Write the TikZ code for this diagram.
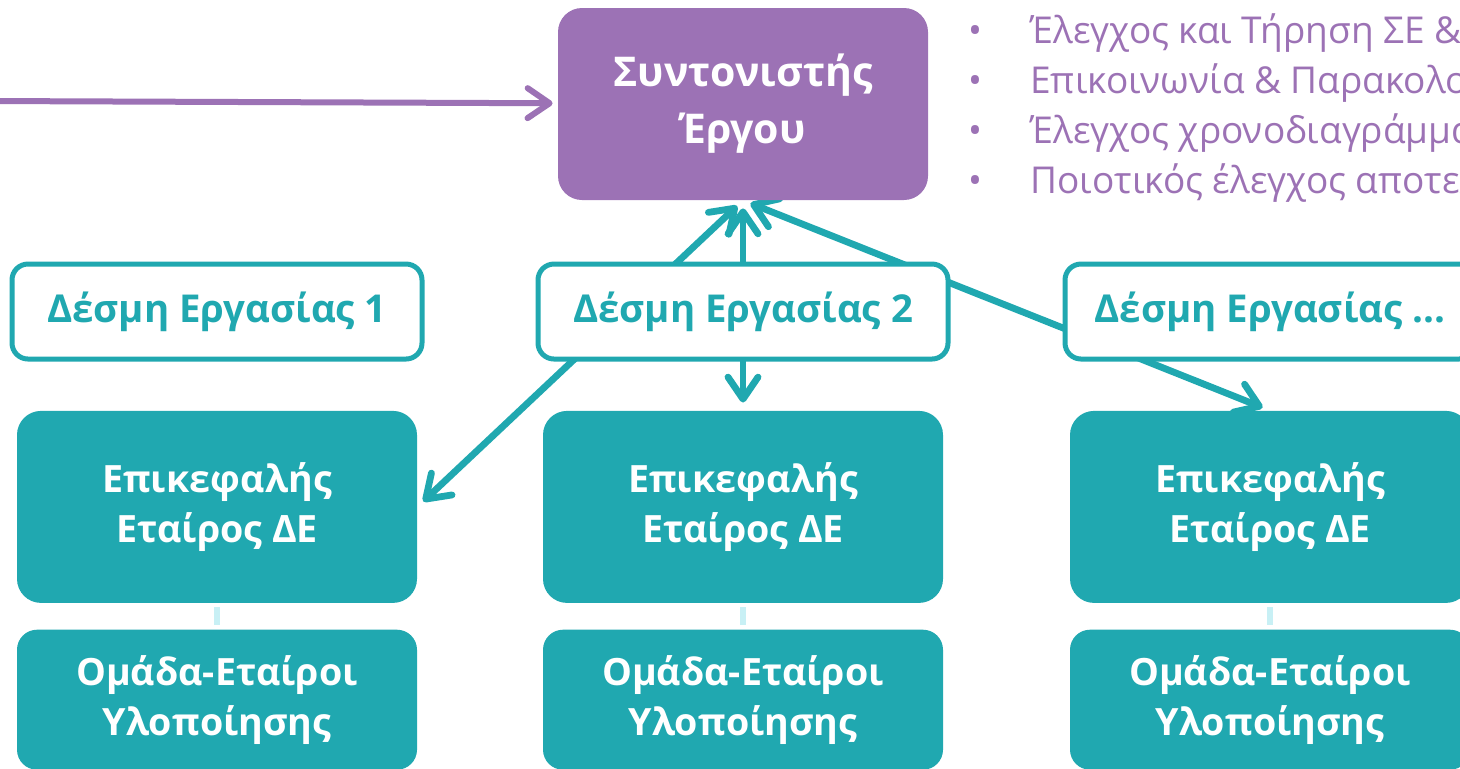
\documentclass[tikz,border=0pt]{standalone}
\usepackage{fontspec}
\setmainfont{Open Sans}
\usetikzlibrary{arrows.meta,positioning,backgrounds}
\definecolor{coordpurple}{RGB}{156,114,181}
\definecolor{wpteal}{RGB}{32,168,176}
\definecolor{paleteal}{RGB}{200,240,245}

\begin{document}
\begin{tikzpicture}[x=0.5pt,y=-0.5pt,
coordbox/.style={fill=coordpurple,rounded corners=12pt,minimum width=185pt,minimum height=96pt,
align=center,text=white,font=\fontsize{20.5}{28.5}\selectfont\bfseries},
wpbox/.style={draw=wpteal,line width=2.5pt,fill=white,rounded corners=8pt,
minimum width=205pt,minimum height=47.5pt,text=wpteal,font=\fontsize{19.2}{22}\selectfont\bfseries},
leadbox/.style={fill=wpteal,rounded corners=12pt,minimum width=200pt,minimum height=96pt,
align=center,text=white,font=\fontsize{18.8}{25}\selectfont\bfseries},
teambox/.style={leadbox,rounded corners=10pt,minimum height=70pt},
task/.style={anchor=base west,inner sep=0pt,text=coordpurple,font=\fontsize{18.5}{22}\selectfont},
link/.style={{Straight Barb[round,length=11pt,width=15pt]}-{Straight Barb[round,length=11pt,width=15pt]},
line width=3.4pt,wpteal,shorten <=4pt,shorten >=4pt},
feed/.style={-{Straight Barb[round,length=11pt,width=15pt]},line width=3pt,coordpurple,shorten >=2.5pt},
joint/.style={paleteal,line width=3pt,shorten <=2pt,shorten >=2pt}
]
\useasboundingbox (0,0) rectangle (1460,768);

\node[coordbox] (coord) at (743,104) {Συντονιστής\\Έργου};
\coordinate (source) at (-10,101);

\node[task] (task1) at (968,43) {\makebox[31pt][l]{•}Έλεγχος και Τήρηση ΣΕ \& Προϋπολογισμού};
\node[task] (task2) at (968,93) {\makebox[31pt][l]{•}Επικοινωνία \& Παρακολούθηση};
\node[task] (task3) at (968,143) {\makebox[31pt][l]{•}Έλεγχος χρονοδιαγράμματος};
\node[task] (task4) at (968,193) {\makebox[31pt][l]{•}Ποιοτικός έλεγχος αποτελεσμάτων};

\node[wpbox] (wp1) at (217,311.5) {Δέσμη Εργασίας 1};
\node[wpbox] (wp2) at (743,311.5) {Δέσμη Εργασίας 2};
\node[wpbox] (wp3) at (1270,311.5) {Δέσμη Εργασίας ...};

\node[leadbox,below=24.5pt of wp1] (lead1) {Επικεφαλής\\Εταίρος ΔΕ};
\node[leadbox,below=24.5pt of wp2] (lead2) {Επικεφαλής\\Εταίρος ΔΕ};
\node[leadbox,below=24.5pt of wp3] (lead3) {Επικεφαλής\\Εταίρος ΔΕ};

\node[teambox,below=13pt of lead1] (team1) {Ομάδα-Εταίροι\\Υλοποίησης};
\node[teambox,below=13pt of lead2] (team2) {Ομάδα-Εταίροι\\Υλοποίησης};
\node[teambox,below=13pt of lead3] (team3) {Ομάδα-Εταίροι\\Υλοποίησης};

\begin{scope}[on background layer]
\draw[feed] (source) -- (coord);
\draw[link] (coord.south) -- (lead1.east);
\draw[link] (coord.south) -- (coord.south |- lead2.north);
\draw[link] (coord.south) -- (lead3.north);
\end{scope}

\draw[joint] (lead1) -- (team1);
\draw[joint] (lead2) -- (team2);
\draw[joint] (lead3) -- (team3);
\end{tikzpicture}
\end{document}
